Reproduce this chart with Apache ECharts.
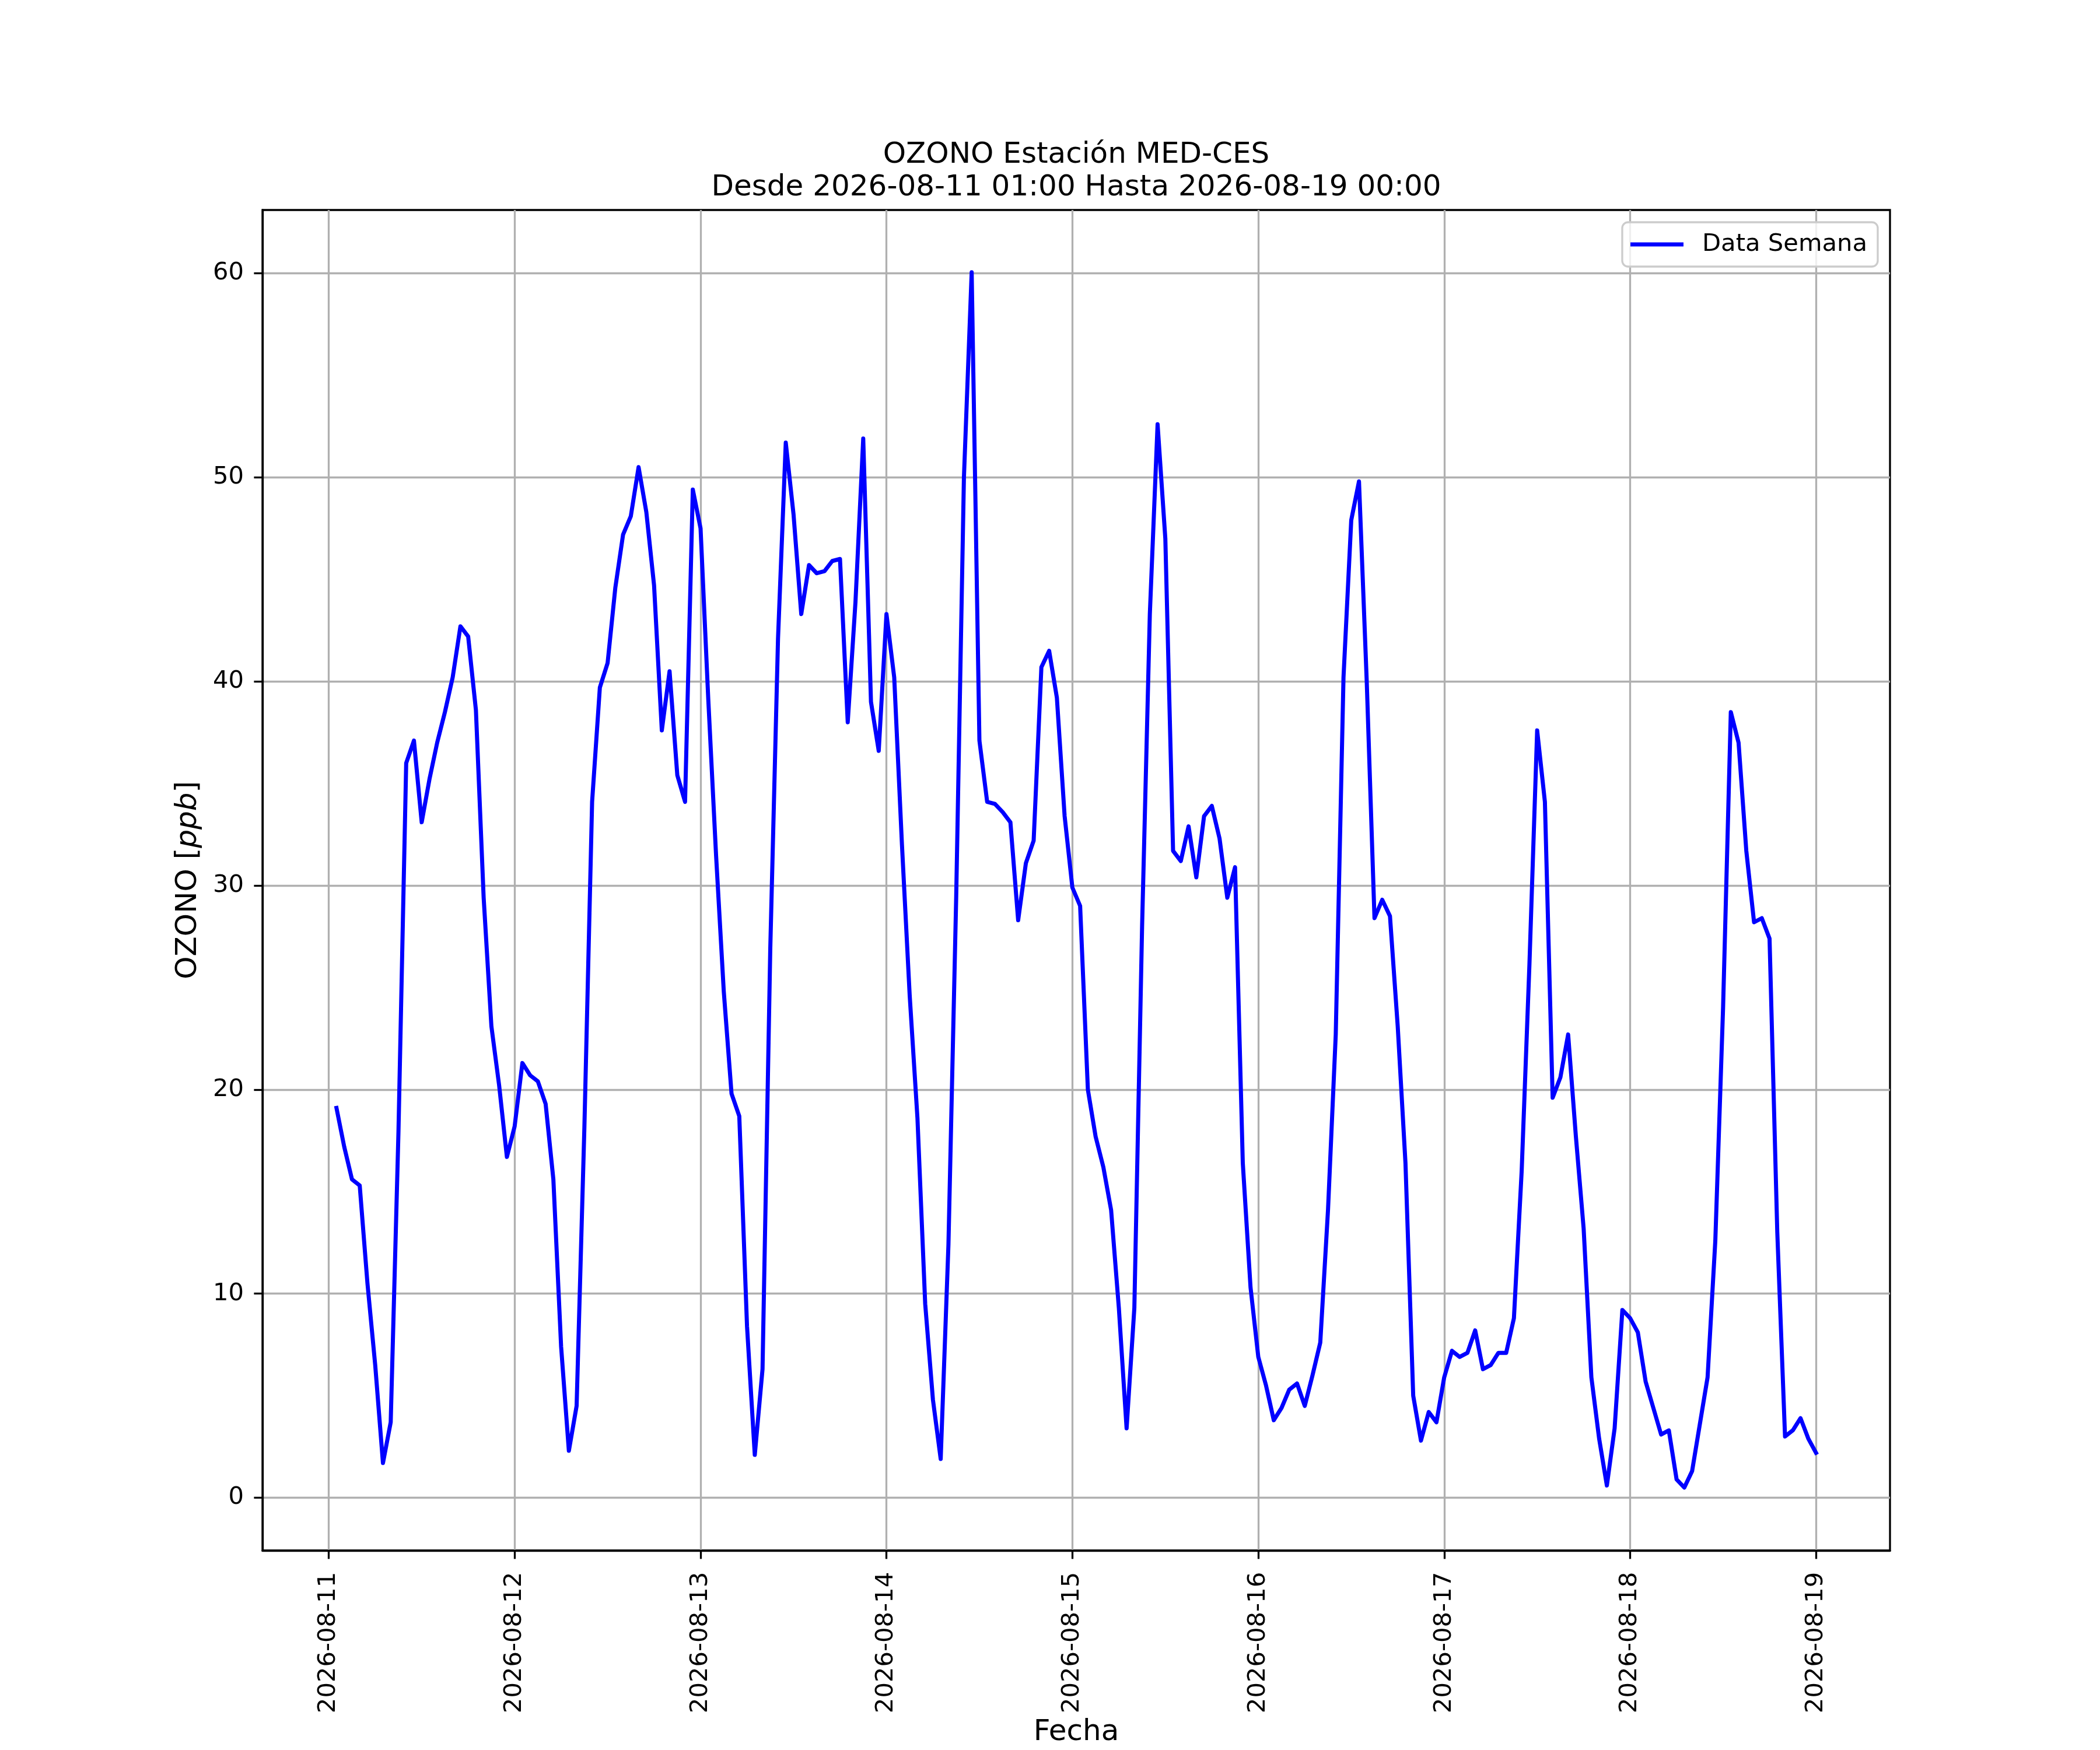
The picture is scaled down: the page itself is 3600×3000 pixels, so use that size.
<!DOCTYPE html>
<html>
<head>
<meta charset="utf-8">
<title>OZONO Estación MED-CES</title>
<script src="https://cdn.jsdelivr.net/npm/echarts@6/dist/echarts.min.js"></script>
<style>
  html, body { margin: 0; padding: 0; background: #fff; }
  #main { width: 3600px; height: 3000px; }
</style>
</head>
<body>
<div id="main"></div>
<script>
// hourly values, 2026-08-11 01:00 .. 2026-08-19 00:00 (ppb)
var ozono = [
  19.1, 17.2, 15.6, 15.3, 10.5, 6.5, 1.7, 3.7, 17.9, 36.0, 37.1, 33.1, 35.2, 37.0, 38.5, 40.2, 42.7, 42.2, 38.6, 29.4, 23.1, 20.2, 16.7, 18.2,
  21.3, 20.7, 20.4, 19.3, 15.6, 7.4, 2.3, 4.5, 18.1, 34.1, 39.7, 40.9, 44.6, 47.2, 48.1, 50.5, 48.3, 44.7, 37.6, 40.5, 35.4, 34.1, 49.4, 47.5,
  39.1, 31.5, 24.8, 19.8, 18.7, 8.4, 2.1, 6.3, 26.9, 42.1, 51.7, 48.2, 43.3, 45.7, 45.3, 45.4, 45.9, 46.0, 38.0, 43.9, 51.9, 39.0, 36.6, 43.3,
  40.2, 32.0, 24.6, 18.6, 9.5, 4.8, 1.9, 12.4, 29.4, 50.0, 60.05, 37.1, 34.1, 34.0, 33.6, 33.1, 28.3, 31.1, 32.2, 40.7, 41.5, 39.2, 33.4, 29.9,
  29.0, 20.0, 17.7, 16.2, 14.1, 9.3, 3.4, 9.3, 28.0, 43.3, 52.6, 47.0, 31.7, 31.2, 32.9, 30.4, 33.4, 33.9, 32.3, 29.4, 30.9, 16.4, 10.3, 6.9,
  5.5, 3.8, 4.4, 5.3, 5.6, 4.5, 6.0, 7.6, 14.1, 22.7, 40.2, 47.9, 49.8, 40.0, 28.4, 29.3, 28.5, 23.1, 16.4, 5.0, 2.8, 4.2, 3.7, 5.9,
  7.2, 6.9, 7.1, 8.2, 6.3, 6.5, 7.1, 7.1, 8.8, 16.0, 26.1, 37.6, 34.1, 19.6, 20.6, 22.7, 17.7, 13.2, 5.9, 2.9, 0.6, 3.4, 9.2, 8.8,
  8.1, 5.7, 4.4, 3.1, 3.3, 0.9, 0.5, 1.3, 3.6, 5.9, 12.6, 24.0, 38.5, 37.0, 31.7, 28.2, 28.4, 27.4, 13.0, 3.0, 3.3, 3.9, 2.9, 2.2
];
// x tick labels, one per day (hours since 2026-08-11 00:00)
var fechas = ['2026-08-11', '2026-08-12', '2026-08-13', '2026-08-14', '2026-08-15',
              '2026-08-16', '2026-08-17', '2026-08-18', '2026-08-19'];
var yTicks = [0, 10, 20, 30, 40, 50, 60];

var horas = [];
for (var i = 0; i < ozono.length; i++) horas.push(i + 1);
var serie = horas.map(function (h, i) { return [h, ozono[i]]; });
var xTicks = fechas.map(function (f, i) { return i * 24; });

var FONT = 'DejaVu Sans';
var lw = 3.3;

var option = {
    animation: false,
    backgroundColor: '#ffffff',
    title: {
        text: 'OZONO Estación MED-CES\nDesde 2026-08-11 01:00 Hasta 2026-08-19 00:00',
        left: 1845,
        top: 238,
        padding: 0,
        textAlign: 'center',
        textStyle: { fontFamily: FONT, fontSize: 50, fontWeight: 'normal', color: '#000', lineHeight: 56 }
    },
    legend: {
        right: 381,
        top: 381,
        padding: [13, 18, 13, 14],
        icon: 'rect',
        itemWidth: 91,
        itemHeight: 7,
        backgroundColor: 'rgba(255,255,255,0.8)',
        borderColor: '#cccccc',
        borderWidth: lw,
        borderRadius: 10,
        textStyle: { fontFamily: FONT, fontSize: 41.7, color: '#000', lineHeight: 50, padding: [0, 0, 0, 27] },
        data: ['Data Semana']
    },
    grid: {
        left: 450, right: 360, top: 360, bottom: 330,
        show: true, borderColor: '#000', borderWidth: lw, backgroundColor: 'transparent'
    },
    xAxis: {
        type: 'value',
        min: -8.55,
        max: 201.55,
        name: 'Fecha',
        nameLocation: 'middle',
        nameGap: 282,
        nameTextStyle: { fontFamily: FONT, fontSize: 50, color: '#000', lineHeight: 50 },
        axisLine: { show: true, onZero: false, lineStyle: { color: '#000', width: lw } },
        axisTick: { show: true, length: 14.6, lineStyle: { color: '#000', width: lw }, customValues: xTicks },
        axisLabel: {
            rotate: 90, margin: 37, fontFamily: FONT, fontSize: 41.7, color: '#000',
            customValues: xTicks,
            formatter: function (v) { return fechas[Math.round(v / 24)]; }
        },
        splitLine: { show: true, lineStyle: { color: '#b0b0b0', width: lw } }
    },
    yAxis: {
        type: 'value',
        min: -2.58,
        max: 63.1,
        name: '{n|OZONO [}{i|ppb}{n|]}',
        nameLocation: 'middle',
        nameGap: 102,
        nameRotate: 90,
        nameTextStyle: {
            fontFamily: FONT, fontSize: 50, color: '#000',
            rich: {
                n: { fontFamily: FONT, fontSize: 50, color: '#000' },
                i: { fontFamily: FONT, fontSize: 50, fontStyle: 'italic', color: '#000' }
            }
        },
        axisLine: { show: true, onZero: false, lineStyle: { color: '#000', width: lw } },
        axisTick: { show: true, length: 14.6, lineStyle: { color: '#000', width: lw }, customValues: yTicks },
        axisLabel: { margin: 32, fontFamily: FONT, fontSize: 41.7, color: '#000', customValues: yTicks },
        splitLine: { show: true, lineStyle: { color: '#b0b0b0', width: lw } }
    },
    series: [
        {
            name: 'Data Semana',
            type: 'line',
            data: serie,
            showSymbol: false,
            symbol: 'none',
            color: '#0000ff',
            lineStyle: { color: '#0000ff', width: 7, join: 'round', cap: 'square' }
        }
    ]
};

echarts.init(document.getElementById('main'), null, { renderer: 'canvas', width: 3600, height: 3000 }).setOption(option);
</script>
</body>
</html>
